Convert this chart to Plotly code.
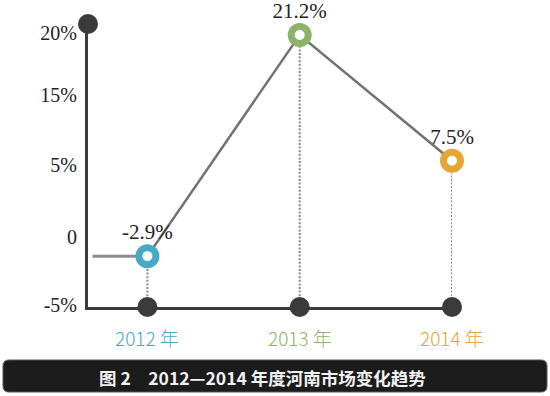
import plotly.graph_objects as go

# ---- data ----
years = [2012, 2013, 2014]
year_labels = ["2012 年", "2013 年", "2014 年"]
growth = [-2.9, 21.2, 7.5]
value_labels = ["-2.9%", "21.2%", "7.5%"]
tick_text = ["20%", "15%", "5%", "0", "-5%"]
tick_pos = [21.42, 14.66, 7.03, -0.81, -8.22]   # where the reference prints its labels
caption = "图 2　2012—2014 年度河南市场变化趋势"

point_colors = ["#48a9c6", "#8db36b", "#e6a534"]
axis_color = "#3b3b3b"
line_color = "#6f7471"

X_MIN, X_MAX = 2011.61, 2014.0
Y_MIN, Y_MAX = -8.44, 22.4

W, H = 550, 396
ML, MR, MT, MB = 88, 98, 24, 89
PW, PH = W - ML - MR, H - MT - MB

def px(x):
    return (x - ML) / PW

def py(y):
    return (H - MB - y) / PH

fig = go.Figure()

# dotted drop lines from each point to the x axis
for x, y in zip(years, growth):
    fig.add_trace(go.Scatter(x=[x, x], y=[Y_MIN, y], mode="lines",
                             line=dict(color="#8f8f8f", width=2.2, dash="2px,1.6px"),
                             hoverinfo="skip", showlegend=False, cliponaxis=False))

# lead-in segment from the y axis to the first point
fig.add_trace(go.Scatter(x=[X_MIN + 0.03, years[0]], y=[growth[0], growth[0]], mode="lines",
                         line=dict(color="#8c8c8c", width=3),
                         hoverinfo="skip", showlegend=False, cliponaxis=False))

# main trend line
fig.add_trace(go.Scatter(x=years, y=growth, mode="lines",
                         line=dict(color=line_color, width=2.5),
                         hoverinfo="skip", showlegend=False, cliponaxis=False))

# dark dots on the axes
fig.add_trace(go.Scatter(x=years + [X_MIN], y=[Y_MIN] * len(years) + [Y_MAX], mode="markers",
                         marker=dict(color=axis_color, size=20),
                         hoverinfo="skip", showlegend=False, cliponaxis=False))

# ring markers with value labels
fig.add_trace(go.Scatter(x=years, y=growth, mode="markers+text",
                         text=value_labels, textposition="top center",
                         textfont=dict(family="Liberation Serif", size=21, color="#222222"),
                         marker=dict(color="white", size=17,
                                     line=dict(color=point_colors, width=7)),
                         hoverinfo="skip", showlegend=False, cliponaxis=False))

# year labels under the axis
for x, lab, c in zip(years, year_labels, point_colors):
    fig.add_annotation(x=x, y=py(338), xref="x", yref="paper", text=lab, showarrow=False,
                       font=dict(family="Noto Sans CJK SC", size=19, color=c, weight=300),
                       xanchor="center", yanchor="middle")

# caption bar (rounded rectangle)
x0, x1, y0, y1, r = 3, 547, 360, 392, 6
path = (f"M {px(x0+r)},{py(y0)} L {px(x1-r)},{py(y0)} Q {px(x1)},{py(y0)} {px(x1)},{py(y0+r)} "
        f"L {px(x1)},{py(y1-r)} Q {px(x1)},{py(y1)} {px(x1-r)},{py(y1)} "
        f"L {px(x0+r)},{py(y1)} Q {px(x0)},{py(y1)} {px(x0)},{py(y1-r)} "
        f"L {px(x0)},{py(y0+r)} Q {px(x0)},{py(y0)} {px(x0+r)},{py(y0)} Z")

fig.add_annotation(x=px(262), y=py(377), xref="paper", yref="paper", text=caption,
                   showarrow=False,
                   font=dict(family="Noto Sans CJK SC", size=17.5, color="#f2f2f2", weight="bold"),
                   xanchor="center", yanchor="middle")

fig.update_layout(
    width=W, height=H,
    margin=dict(l=ML, r=MR, t=MT, b=MB, autoexpand=False),
    paper_bgcolor="white", plot_bgcolor="white",
    xaxis=dict(range=[X_MIN, X_MAX], showgrid=False, zeroline=False, showticklabels=False,
               showline=True, linecolor=axis_color, linewidth=3, ticks=""),
    yaxis=dict(range=[Y_MIN, Y_MAX], showgrid=False, zeroline=False,
               tickvals=tick_pos, ticktext=tick_text, ticks="",
               tickfont=dict(family="Liberation Serif", size=20, color="#222222"),
               showline=True, linecolor=axis_color, linewidth=3, ticklabelstandoff=4),
    shapes=[dict(type="path", path=path, xref="paper", yref="paper",
                 fillcolor="#1c1c1c", line=dict(width=1, color="#555555"), layer="above")],
)

fig.write_html("out.html", config={"displayModeBar": False},
               post_script="document.body.style.margin='0';")
